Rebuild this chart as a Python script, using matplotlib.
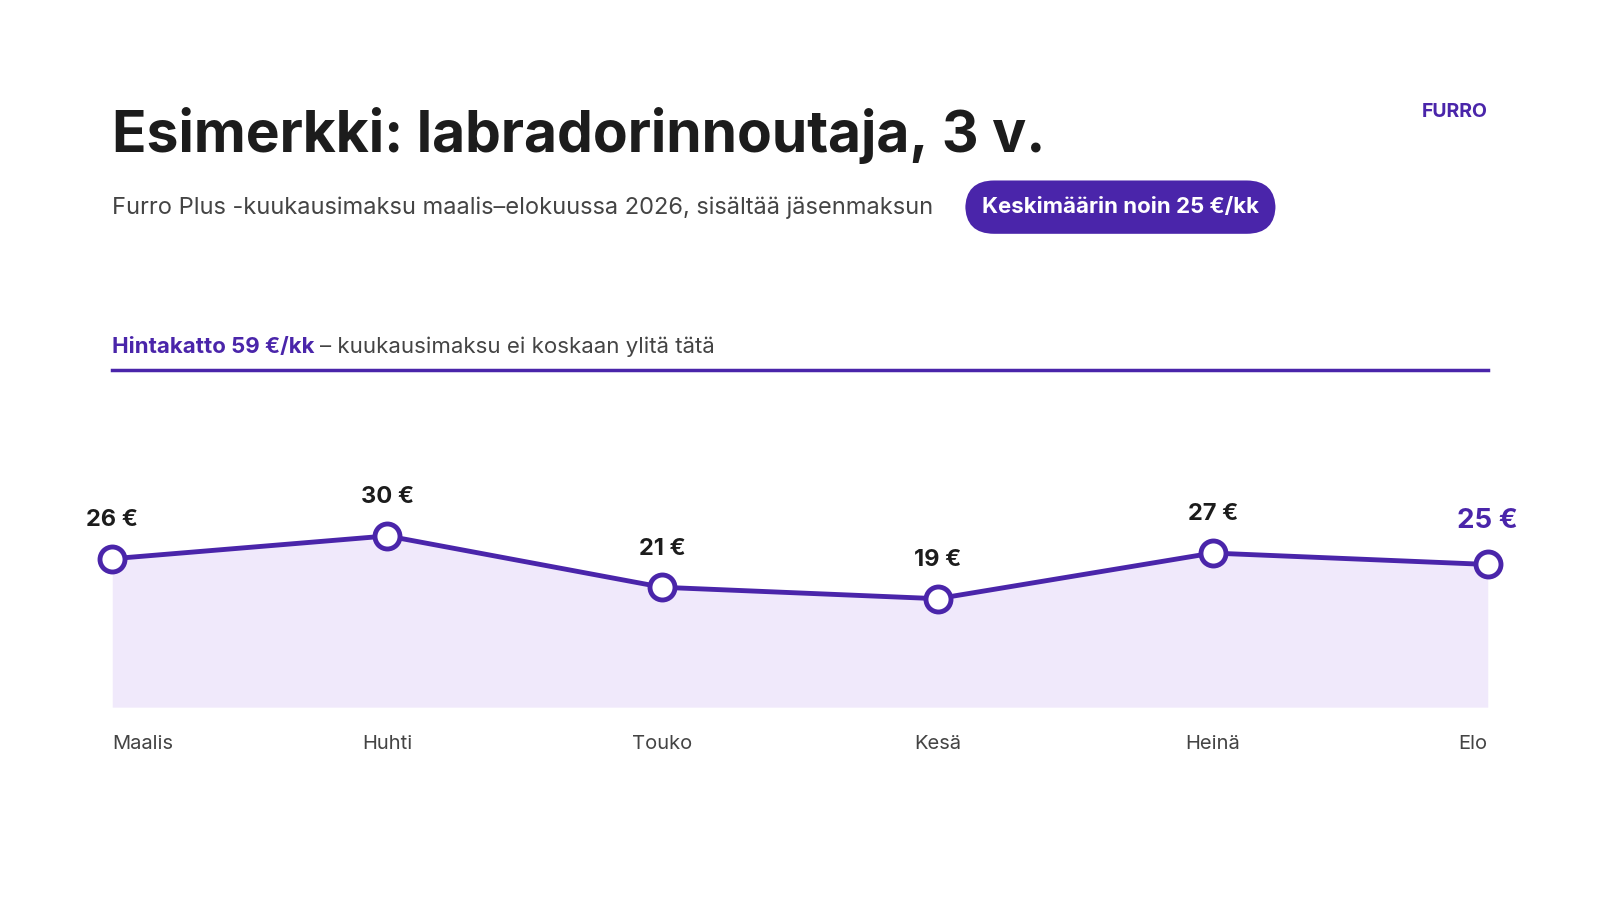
import matplotlib
matplotlib.use("Agg")
import matplotlib.pyplot as plt

months = ["Maalis", "Huhti", "Touko", "Kesä", "Heinä", "Elo"]
values = [26, 30, 21, 19, 27, 25]
labels = ["26 €", "30 €", "21 €", "19 €", "27 €", "25 €"]
cap = 59

purple = "#4a25aa"
fill = "#f0e9fb"
dark = "#1c1c1c"
grey = "#444444"
plt.rcParams['font.family'] = ['Inter', 'DejaVu Sans']

fig = plt.figure(figsize=(16, 9), dpi=100)
W, H = 1568, 882
def fx(x): return x / W
def fy(y): return 1 - y / H

ax = fig.add_axes([fx(110), fy(693), fx(1458) - fx(110), fy(363) - fy(693)])
x = list(range(len(months)))
ax.fill_between(x, values, 0, color=fill, zorder=1, linewidth=0)
ax.plot(x, values, color=purple, lw=3.5, zorder=3)
ax.plot(x, values, 'o', ms=18, mfc="white", mec=purple, mew=3.5, zorder=4, clip_on=False)
ax.axhline(cap, color=purple, lw=2.5, zorder=2, clip_on=False)
ax.set_xlim(0, len(months) - 1)
ax.set_ylim(0, cap)
ax.axis("off")
for i, (v, l) in enumerate(zip(values, labels)):
    last = i == len(values) - 1
    ax.annotate(l, (i, v), xytext=(0, 20 if not last else 22), textcoords="offset points",
                ha="center", va="bottom", fontsize=20 if last else 17, fontweight="bold",
                color=purple if last else dark)
for i, m in enumerate(months):
    ha = "left" if i == 0 else ("right" if i == len(months) - 1 else "center")
    ax.annotate(m, (i, 0), xytext=(0, -20), textcoords="offset points",
                ha=ha, va="top", fontsize=14.5, color=grey)

fig.text(fx(110), fy(133), "Esimerkki: labradorinnoutaja, 3 v.", fontsize=41, fontweight="bold",
         color=dark, va="center", ha="left")
fig.text(fx(1458), fy(110), "FURRO", fontsize=14, fontweight="bold", color=purple,
         va="center", ha="right")
fig.text(fx(110), fy(204), "Furro Plus -kuukausimaksu maalis–elokuussa 2026, sisältää jäsenmaksun",
         fontsize=17, color=grey, va="center", ha="left")
fig.text(fx(1098), fy(203), "Keskimäärin noin 25 €/kk", fontsize=16, fontweight="bold",
         color="white", va="center", ha="center",
         bbox=dict(boxstyle="round,pad=0.75,rounding_size=1.3", facecolor=purple, edgecolor="none"))
t = fig.text(fx(110), fy(340), "Hintakatto 59 €/kk", fontsize=16, fontweight="bold",
             color=purple, va="center", ha="left")
fig.canvas.draw()
bb = t.get_window_extent()
fig.text(bb.x1 / 1600 + 0.003, fy(340), "– kuukausimaksu ei koskaan ylitä tätä", fontsize=16,
         color=grey, va="center", ha="left")
fig.savefig("out.png", dpi=100, facecolor="white")
